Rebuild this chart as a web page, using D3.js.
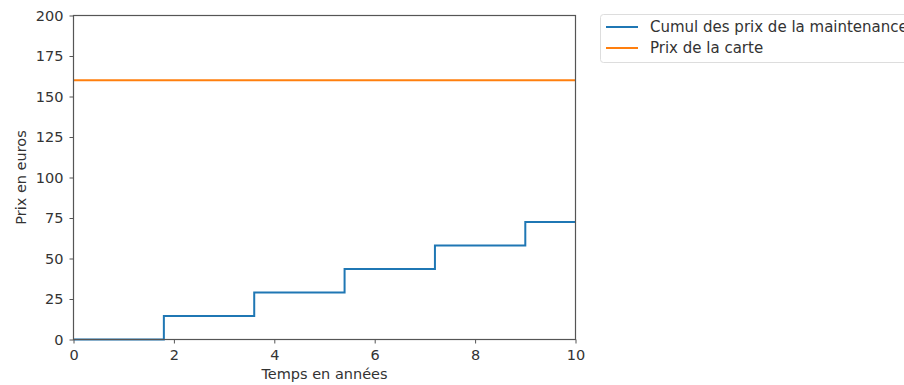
<!DOCTYPE html>
<html>
<head>
<meta charset="utf-8" />
<style>
  html, body { margin: 0; padding: 0; background: #fff; }
  svg { display: block; font-family: "DejaVu Sans", sans-serif; }
</style>
</head>
<body>
<svg id="chart" width="904" height="385"></svg>
<script src="https://cdnjs.cloudflare.com/ajax/libs/d3/7.8.5/d3.min.js"></script>
<script>
// step data
var stepYears = [0, 1.8, 3.6, 5.4, 7.2, 9.0, 10];
var stepCumul = [0, 14.5, 29, 43.5, 58, 72.5, 72.5];
var cardYears = [0, 10];
var cardPrice = [160, 160];
var xTicks = [0, 2, 4, 6, 8, 10];
var yTicks = [0, 25, 50, 75, 100, 125, 150, 175, 200];
var seriesNames = ["Cumul des prix de la maintenance", "Prix de la carte"];
var seriesColors = ["#1f77b4", "#ff7f0e"];

var svg = d3.select("#chart");
var plotLeft = 73.5, plotRight = 575.5, plotTop = 15.5, plotBottom = 339.5;
var fontSize = "14.5px";

var x = d3.scaleLinear().domain([0, 10]).range([plotLeft, plotRight]);
var y = d3.scaleLinear().domain([0, 200]).range([plotBottom, plotTop]);

var steps = stepYears.map(function(t, i) { return [t, stepCumul[i]]; });
var card = cardYears.map(function(t, i) { return [t, cardPrice[i]]; });

svg.append("path")
    .datum(steps)
    .attr("d", d3.line()
        .x(function(d) { return x(d[0]); })
        .y(function(d) { return y(d[1]); })
        .curve(d3.curveStepAfter))
    .attr("fill", "none")
    .attr("stroke", seriesColors[0])
    .attr("stroke-width", 2);

svg.append("path")
    .datum(card)
    .attr("d", d3.line()
        .x(function(d) { return x(d[0]); })
        .y(function(d) { return y(d[1]); }))
    .attr("fill", "none")
    .attr("stroke", seriesColors[1])
    .attr("stroke-width", 2);

// frame
svg.append("rect")
    .attr("x", plotLeft).attr("y", plotTop)
    .attr("width", plotRight - plotLeft).attr("height", plotBottom - plotTop)
    .attr("fill", "none")
    .attr("stroke", "#555")
    .attr("stroke-width", 1.2);

var xAxis = svg.append("g")
    .attr("transform", "translate(0," + plotBottom + ")")
    .call(d3.axisBottom(x).tickValues(xTicks).tickSize(4).tickPadding(6).tickFormat(d3.format("d")));
var yAxis = svg.append("g")
    .attr("transform", "translate(" + plotLeft + ",0)")
    .call(d3.axisLeft(y).tickValues(yTicks).tickSize(4).tickPadding(6).tickFormat(d3.format("d")));

[xAxis, yAxis].forEach(function(g) {
  g.select(".domain").remove();
  g.selectAll(".tick line").attr("stroke", "#555");
  g.selectAll(".tick text")
    .attr("fill", "#333")
    .style("font-size", fontSize)
    .style("font-family", "DejaVu Sans, sans-serif");
});

svg.append("text")
    .attr("x", (plotLeft + plotRight) / 2)
    .attr("y", 379)
    .attr("text-anchor", "middle")
    .attr("fill", "#333")
    .style("font-size", fontSize)
    .text("Temps en années");

svg.append("text")
    .attr("transform", "translate(25.5," + ((plotTop + plotBottom) / 2) + ") rotate(-90)")
    .attr("text-anchor", "middle")
    .attr("fill", "#333")
    .style("font-size", fontSize)
    .text("Prix en euros");

// legend
var legend = svg.append("g").attr("transform", "translate(600,14)");
legend.append("rect")
    .attr("x", 0.5).attr("y", 0.5)
    .attr("width", 320).attr("height", 48)
    .attr("rx", 3)
    .attr("fill", "#fff")
    .attr("stroke", "#ddd");
seriesNames.forEach(function(name, i) {
  var ly = 13 + i * 21;
  legend.append("line")
      .attr("x1", 6).attr("x2", 38)
      .attr("y1", ly).attr("y2", ly)
      .attr("stroke", seriesColors[i])
      .attr("stroke-width", 2);
  legend.append("text")
      .attr("x", 50).attr("y", ly)
      .attr("dy", "0.35em")
      .attr("fill", "#333")
      .style("font-size", "15px")
      .text(name);
});
</script>
</body>
</html>
